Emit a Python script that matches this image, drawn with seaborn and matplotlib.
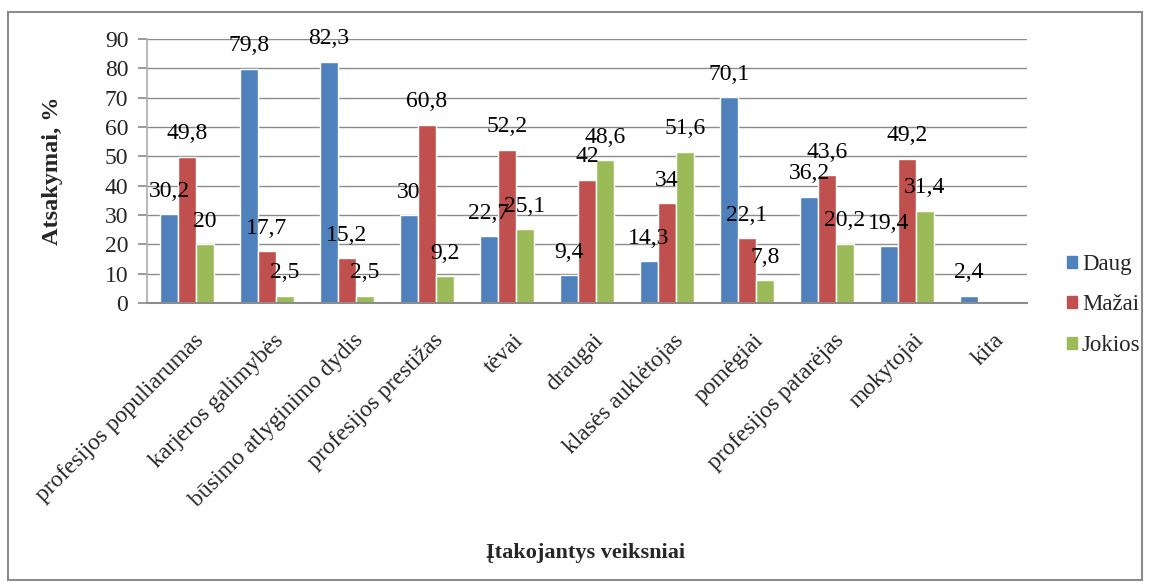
import numpy as np
import pandas as pd
import matplotlib
matplotlib.use("Agg")
import matplotlib.pyplot as plt
import matplotlib.transforms as mtransforms
from matplotlib.patches import Rectangle
import seaborn as sns

categories = ["profesijos populiarumas", "karjeros galimybės", "būsimo atlyginimo dydis",
              "profesijos prestižas", "tėvai", "draugai", "klasės auklėtojas", "pomėgiai",
              "profesijos patarėjas", "mokytojai", "kita"]
daug = [30.2, 79.8, 82.3, 30, 22.7, 9.4, 14.3, 70.1, 36.2, 19.4, 2.4]
mazai = [49.8, 17.7, 15.2, 60.8, 52.2, 42, 34, 22.1, 43.6, 49.2, np.nan]
jokios = [20, 2.5, 2.5, 9.2, 25.1, 48.6, 51.6, 7.8, 20.2, 31.4, np.nan]
series = ["Daug", "Mažai", "Jokios"]
colors = ["#4F81BD", "#C0504D", "#9BBB59"]
yticks = [0, 10, 20, 30, 40, 50, 60, 70, 80, 90]

rows = []
for name, vals in zip(series, [daug, mazai, jokios]):
    for c, v in zip(categories, vals):
        rows.append({"cat": c, "series": name, "val": v})
df = pd.DataFrame(rows)

sns.set_theme(style="white")
plt.rcParams["font.family"] = ["Liberation Serif", "DejaVu Serif"]

fig = plt.figure(figsize=(11.5, 5.88), dpi=100)
ax = fig.add_axes([147 / 1150, 1 - 303 / 588, (1027 - 147) / 1150, (303 - 39) / 588])

sns.barplot(data=df, x="cat", y="val", hue="series", order=categories,
            hue_order=series, palette=colors, width=0.675, ax=ax,
            errorbar=None, legend=False, saturation=1)

for cont in ax.containers:
    labels = []
    for b in cont:
        h = b.get_height()
        if h is None or np.isnan(h) or h == 0:
            labels.append("")
        else:
            labels.append(f"{h:g}".replace(".", ","))
    ax.bar_label(cont, labels=labels, padding=9, fontsize=17, color="black")

ax.set_ylim(0, 90)
ax.set_yticks(yticks)
ax.set_yticklabels([str(t) for t in yticks], fontsize=17)
ax.set_xlim(-0.5, len(categories) - 0.5)
ax.yaxis.grid(True, color="#8c8c8c", linewidth=1)
ax.set_axisbelow(True)
for s in ["top", "right"]:
    ax.spines[s].set_visible(False)
ax.spines["left"].set_color("#b0b0b0")
ax.spines["bottom"].set_color("#8c8c8c")
ax.spines["bottom"].set_linewidth(1.5)
ax.tick_params(axis="y", length=6.5, color="#8c8c8c", pad=7, left=True)
ax.tick_params(axis="x", length=0, pad=0)
ax.set_xticks(range(len(categories)))
ax.set_xticklabels(categories, rotation=45, ha="right", rotation_mode="anchor", fontsize=17)
for lab in ax.get_xticklabels():
    lab.set_transform(lab.get_transform() +
                      mtransforms.ScaledTranslation(6 / 100, -27 / 100, fig.dpi_scale_trans))
ax.set_xlabel("")
ax.set_ylabel("Atsakymai, %", fontsize=17.5, fontweight="bold", labelpad=30)

fig.text(586 / 1150, 1 - 553 / 588, "Įtakojantys veiksniai", ha="center", va="center",
         fontsize=16, fontweight="bold")

handles = [Rectangle((0, 0), 1, 1, color=c) for c in colors]
fig.legend(handles, series, loc="center left", bbox_to_anchor=(1051 / 1150, 1 - 305 / 588),
           frameon=False, fontsize=16.5, handlelength=0.45, handleheight=0.45,
           handletextpad=0.2, labelspacing=0.85, borderpad=0.2)

fig.patches.append(Rectangle((0.007, 0.014), 0.986, 0.965, transform=fig.transFigure,
                             fill=False, edgecolor="#8c8c8c", linewidth=1.5))

fig.savefig("out.png", dpi=100, facecolor="white")
